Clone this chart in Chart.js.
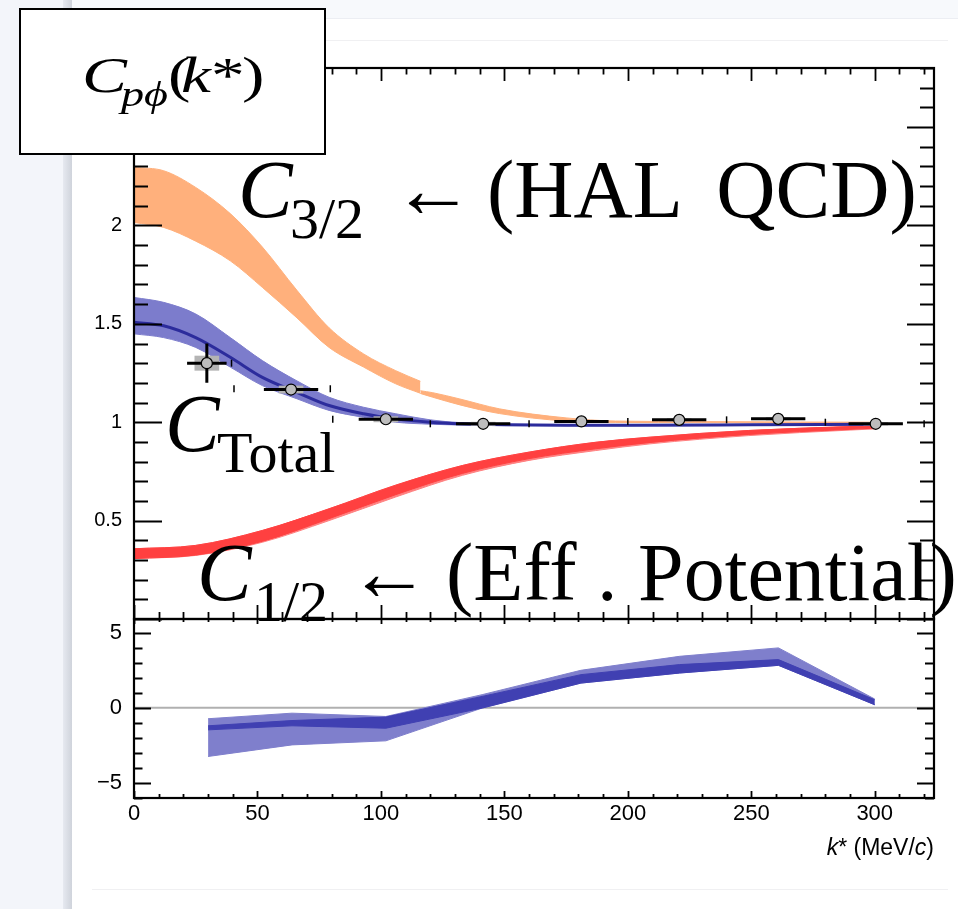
<!DOCTYPE html>
<html>
<head>
<meta charset="utf-8">
<title>p–φ correlation function</title>
<script src="https://cdn.jsdelivr.net/npm/chart.js@4.4.1/dist/chart.umd.min.js"></script>
<style>
  html, body { margin: 0; padding: 0; background: #fff; }
  #page { position: relative; width: 958px; height: 909px; overflow: hidden; background: #fff; }
  .side  { position: absolute; left: 0; top: 0; width: 63px; height: 909px; background: #f3f5fa; }
  .edge  { position: absolute; left: 63px; top: 0; width: 9px; height: 909px; background: linear-gradient(to right, #e6e9f0, #cfd3db); }
  .topbar{ position: absolute; left: 72px; top: 0; width: 886px; height: 18px; background: #f7f9fc; border-bottom: 1px solid #eceef3; }
  .rule1 { position: absolute; left: 72px; top: 40px; width: 876px; height: 1px; background: #f0f0f2; }
  .rule2 { position: absolute; left: 92px; top: 889px; width: 856px; height: 1px; background: #f0f0f2; }
  canvas { position: absolute; left: 0; top: 0; }
</style>
</head>
<body>
<div id="page">
  <div class="side"></div>
  <div class="edge"></div>
  <div class="topbar"></div>
  <div class="rule1"></div>
  <div class="rule2"></div>
  <canvas id="lower" width="958" height="909"></canvas>
  <canvas id="upper" width="958" height="909"></canvas>
</div>
<script>
// ---------- measured correlation function ----------
const kData      = [29.5, 63.6, 102.0, 141.4, 181.2, 220.8, 260.9, 300.4];
const cData      = [1.300, 1.166, 1.015, 0.992, 1.004, 1.012, 1.017, 0.992];
const cStat      = [0.100, 0.012, 0.010, 0.008, 0.006, 0.006, 0.006, 0.006];
const cSyst      = [0.038, 0.020, 0.015, 0.010, 0.008, 0.008, 0.008, 0.008];
const kHalfWidth = [8, 11, 11, 11, 11, 11, 11, 11];

// small brackets at the bin edges
const kEdge = [39.5, 40.5, 79.5, 80.5, 120, 160, 200, 240, 280, 320];
const cEdge = [1.300, 1.170, 1.170, 1.015, 0.992, 0.992, 1.004, 1.012, 1.000, 0.992];

// ---------- C_3/2 (HAL QCD) band, two pieces either side of the step ----------
const kHalA  = [0, 12, 25, 39, 52, 66, 79, 93, 106, 116];
const halHiA = [2.295, 2.278, 2.193, 2.060, 1.890, 1.670, 1.480, 1.347, 1.262, 1.208];
const halLoA = [2.015, 1.990, 1.920, 1.820, 1.685, 1.530, 1.380, 1.280, 1.195, 1.147];
const kHalB  = [116, 121, 132, 148, 175, 195, 230, 270, 300];
const halHiB = [1.160, 1.150, 1.118, 1.068, 1.022, 1.006, 1.003, 1.001, 1.000];
const halLoB = [1.146, 1.127, 1.088, 1.044, 1.006, 0.999, 0.998, 0.997, 0.997];

// ---------- C_Total band ----------
const kTot   = [0, 12, 25, 39, 52, 66, 79, 93, 106, 120, 132, 150, 175, 200, 250, 300];
const totHi  = [1.634, 1.609, 1.550, 1.430, 1.313, 1.210, 1.127, 1.076, 1.043, 1.012, 0.998, 0.990, 0.988, 0.988, 0.989, 0.992];
const totMid = [1.508, 1.490, 1.430, 1.330, 1.228, 1.152, 1.085, 1.043, 1.017, 1.000, 0.992, 0.987, 0.985, 0.985, 0.987, 0.990];
const totLo  = [1.449, 1.430, 1.380, 1.280, 1.186, 1.119, 1.060, 1.025, 1.000, 0.990, 0.986, 0.983, 0.982, 0.982, 0.984, 0.988];

// ---------- C_1/2 (effective potential) band ----------
const kEff      = [0, 25, 52, 79, 106, 133, 160, 187, 209, 249, 290, 300];
const effHi     = [0.357, 0.374, 0.450, 0.560, 0.680, 0.780, 0.848, 0.898, 0.924, 0.958, 0.978, 0.982];
const effCoreLo = [0.307, 0.325, 0.395, 0.510, 0.632, 0.740, 0.815, 0.865, 0.897, 0.938, 0.964, 0.970];
const effLo     = [0.307, 0.323, 0.390, 0.500, 0.620, 0.730, 0.806, 0.856, 0.890, 0.932, 0.960, 0.966];

// ---------- deviation panel ----------
const kDev       = [30, 64, 102, 141, 181, 221, 261, 300];
const devOuterHi = [-0.73, -0.36, -0.58, 0.87, 2.49, 3.42, 3.98, 0.58];
const devOuterLo = [-3.24, -2.47, -2.20, -0.02, 1.64, 2.31, 2.82, 0.20];
const devInnerHi = [-1.20, -0.85, -0.62, 0.75, 2.20, 2.87, 3.20, 0.53];
const devInnerLo = [-1.47, -1.20, -1.36, -0.02, 1.64, 2.31, 2.82, 0.20];
const zeroK = [0, 324];
const zeroY = [0, 0];

// ---------- tick labels ----------
const xTickVals     = [0, 50, 100, 150, 200, 250, 300];
const upperTickVals = [0.5, 1, 1.5, 2, 2.5];
const lowerTickVals = [-5, 0, 5];

// ---------------------------------------------------
const SANS  = '"Liberation Sans", Arial, Helvetica, sans-serif';
const SERIF = '"Liberation Serif", "Times New Roman", Times, serif';
Chart.defaults.font.family = SANS;
Chart.defaults.color = '#000';

const pts = (xs, ys) => xs.map((x, i) => ({ x, y: ys[i] }));
const fmt = v => (v < 0 ? '\u2212' + Math.abs(v) : String(v));

function band(data, color, fill, order, smooth) {
  return {
    data, fill, order,
    borderColor: color, borderWidth: 1, backgroundColor: color,
    pointRadius: 0,
    cubicInterpolationMode: smooth ? 'monotone' : 'default',
    tension: 0
  };
}

function range(from, to, step) {
  const out = [];
  for (let i = Math.ceil(from / step - 1e-9); i * step <= to + 1e-9; i++) out.push(+(i * step).toFixed(6));
  return out;
}

// frame with inward ticks, ROOT style
const frameTicks = {
  id: 'frameTicks',
  afterDatasetsDraw(chart, args, o) {
    const { ctx, chartArea: a, scales: { x, y } } = chart;
    const isMajor = (v, m) => Math.abs(v / m - Math.round(v / m)) < 1e-6;
    ctx.save();
    ctx.strokeStyle = '#000';
    ctx.lineWidth = 1.8;
    ctx.beginPath();
    range(x.min, x.max, o.xMinor).forEach(v => {
      const p = Math.round(x.getPixelForValue(v)) + 0.5;
      const mj = isMajor(v, o.xMajor);
      const lt = mj ? o.top[0] : o.top[1];
      const lb = mj ? o.bottom[0] : o.bottom[1];
      ctx.moveTo(p, a.top); ctx.lineTo(p, a.top + lt);
      ctx.moveTo(p, a.bottom); ctx.lineTo(p, a.bottom - lb);
    });
    range(y.min, y.max, o.yMinor).forEach(v => {
      const p = Math.round(y.getPixelForValue(v)) + 0.5;
      const mj = isMajor(v, o.yMajor);
      const ll = mj ? o.left[0] : o.left[1];
      const lr = mj ? o.right[0] : o.right[1];
      ctx.moveTo(a.left, p); ctx.lineTo(a.left + ll, p);
      ctx.moveTo(a.right, p); ctx.lineTo(a.right - lr, p);
    });
    ctx.stroke();
    ctx.lineWidth = 2.2;
    ctx.strokeRect(a.left, a.top, a.right - a.left, a.bottom - a.top);
    ctx.restore();
  }
};

// statistical bars and systematic boxes under the markers
const errorBars = {
  id: 'errorBars',
  beforeDatasetDraw(chart, args) {
    if (args.index !== 0) return;
    const { ctx, scales: { x, y } } = chart;
    const boxHalfK = 5;
    ctx.save();
    kData.forEach((k, i) => {
      const c = cData[i];
      const bx0 = x.getPixelForValue(k - boxHalfK), bx1 = x.getPixelForValue(k + boxHalfK);
      const by0 = y.getPixelForValue(c + cSyst[i]), by1 = y.getPixelForValue(c - cSyst[i]);
      ctx.fillStyle = '#b4b4b4';
      ctx.fillRect(bx0, by0, bx1 - bx0, by1 - by0);
    });
    ctx.strokeStyle = '#000';
    ctx.lineWidth = 3;
    ctx.beginPath();
    kData.forEach((k, i) => {
      const c = cData[i];
      const px = x.getPixelForValue(k), py = y.getPixelForValue(c);
      ctx.moveTo(x.getPixelForValue(k - kHalfWidth[i]), py);
      ctx.lineTo(x.getPixelForValue(k + kHalfWidth[i]), py);
      ctx.moveTo(px, y.getPixelForValue(c + cStat[i]));
      ctx.lineTo(px, y.getPixelForValue(c - cStat[i]));
    });
    ctx.stroke();
    ctx.restore();
  }
};

// labels written over the plot, and the title box
const annotations = {
  id: 'annotations',
  afterDraw(chart) {
    const ctx = chart.ctx;
    const put = (t, f, x, y, ws, sx) => {
      ctx.save();
      ctx.font = f;
      if ('wordSpacing' in ctx) ctx.wordSpacing = ws || '0px';
      ctx.translate(x, y);
      if (sx) ctx.scale(sx, 1);
      ctx.fillText(t, 0, 0);
      ctx.restore();
    };
    ctx.save();
    ctx.fillStyle = '#000';
    ctx.textBaseline = 'alphabetic';
    ctx.textAlign = 'left';

    put('C', 'italic 82px ' + SERIF, 238, 217);
    put('3/2', '58px ' + SERIF, 290, 238);
    put('\u2190', '82px ' + SERIF, 392, 217);
    put('(HAL QCD)', '82px ' + SERIF, 487, 217, '13px');

    put('C', 'italic 82px ' + SERIF, 165, 451);
    put('Total', '58px ' + SERIF, 217, 472);

    put('C', 'italic 82px ' + SERIF, 197, 600);
    put('1/2', '58px ' + SERIF, 254, 621);
    put('\u2190', '82px ' + SERIF, 348, 600);
    put('(Eff . Potential)', '82px ' + SERIF, 446, 600);

    // axis title
    const parts = [
      ['k', 'italic 23px ' + SANS], ['* (MeV/', '23px ' + SANS],
      ['c', 'italic 23px ' + SANS], [')', '23px ' + SANS]
    ];
    let w = 0;
    parts.forEach(([t, f]) => { ctx.font = f; w += ctx.measureText(t).width; });
    let tx = 934 - w;
    parts.forEach(([t, f]) => { ctx.font = f; ctx.fillText(t, tx, 855); tx += ctx.measureText(t).width; });

    // title box
    ctx.fillStyle = '#fff';
    ctx.fillRect(20, 9, 305, 145);
    ctx.strokeStyle = '#000';
    ctx.lineWidth = 2;
    ctx.strokeRect(20, 9, 305, 145);
    ctx.fillStyle = '#000';
    const SX = 1.32;
    put('C', 'italic 51px ' + SERIF, 82, 92, null, SX);
    put('p\u03d5', 'italic 35px ' + SERIF, 121, 106, null, SX);
    put('(', '51px ' + SERIF, 168, 92, null, SX);
    put('k', 'italic 51px ' + SERIF, 181, 92, null, SX);
    put('*', '51px ' + SERIF, 211, 92, null, SX);
    put(')', '51px ' + SERIF, 242, 92, null, SX);
    ctx.restore();
  }
};

const common = {
  responsive: false,
  animation: false,
  events: [],
  plugins: { legend: { display: false }, tooltip: { enabled: false } }
};

// ---------- upper panel: C(k*) ----------
new Chart(document.getElementById('upper'), {
  type: 'line',
  data: {
    datasets: [
      { data: pts(kData, cData), showLine: false, pointRadius: 5.5, pointBorderWidth: 1.2,
        pointBackgroundColor: '#bdbdbd', pointBorderColor: '#000', order: 0 },
      { data: pts(kEdge, cEdge), showLine: false, pointStyle: 'line', rotation: 90, pointRadius: 3.5,
        pointBorderWidth: 1.5, pointBorderColor: '#000', order: 1 },
      { data: pts(kTot, totMid), borderColor: '#2c2c9c', borderWidth: 3, pointRadius: 0,
        fill: false, cubicInterpolationMode: 'monotone', order: 2 },
      band(pts(kTot, totHi), 'rgb(124,124,204)', '+1', 3, true),
      band(pts(kTot, totLo), 'rgb(124,124,204)', false, 4, true),
      band(pts(kHalA, halHiA), 'rgb(255,176,124)', '+1', 5, true),
      band(pts(kHalA, halLoA), 'rgb(255,176,124)', false, 6, true),
      band(pts(kHalB, halHiB), 'rgb(255,176,124)', '+1', 7, true),
      band(pts(kHalB, halLoB), 'rgb(255,176,124)', false, 8, true),
      band(pts(kEff, effHi), 'rgb(255,64,64)', '+1', 9, true),
      band(pts(kEff, effCoreLo), 'rgb(255,64,64)', false, 10, true),
      band(pts(kEff, effHi), 'rgb(255,128,128)', '+1', 11, true),
      band(pts(kEff, effLo), 'rgb(255,128,128)', false, 12, true)
    ]
  },
  options: {
    ...common,
    layout: { padding: { top: 68, right: 24, bottom: 290, left: 0 } },
    scales: {
      x: { type: 'linear', min: 0, max: 324, display: false },
      y: {
        type: 'linear', min: 0, max: 2.8,
        grid: { display: false, drawTicks: false },
        border: { display: false },
        afterBuildTicks: s => { s.ticks = upperTickVals.map(v => ({ value: v })); },
        afterFit: s => { s.width = 134; },
        ticks: { padding: 12, font: { size: 20 }, callback: v => fmt(v) }
      }
    },
    plugins: {
      ...common.plugins,
      frameTicks: { xMinor: 10, xMajor: 50, yMinor: 0.1, yMajor: 0.5,
                    top: [13, 6.5], bottom: [14, 7], left: [28, 14], right: [27, 14] }
    }
  },
  plugins: [errorBars, frameTicks, annotations]
});

// ---------- lower panel: deviation ----------
new Chart(document.getElementById('lower'), {
  type: 'line',
  data: {
    datasets: [
      band(pts(kDev, devInnerHi), 'rgb(64,64,178)', '+1', 0, false),
      band(pts(kDev, devInnerLo), 'rgb(64,64,178)', false, 1, false),
      band(pts(kDev, devOuterHi), 'rgb(127,127,204)', '+1', 2, false),
      band(pts(kDev, devOuterLo), 'rgb(127,127,204)', false, 3, false),
      { data: pts(zeroK, zeroY), borderColor: '#b0b0b0', borderWidth: 2, pointRadius: 0, fill: false, order: 4 }
    ]
  },
  options: {
    ...common,
    layout: { padding: { top: 619, right: 24, bottom: 0, left: 0 } },
    scales: {
      x: {
        type: 'linear', min: 0, max: 324,
        grid: { display: false, drawTicks: false },
        border: { display: false },
        afterBuildTicks: s => { s.ticks = xTickVals.map(v => ({ value: v })); },
        afterFit: s => { s.height = 111; },
        ticks: { padding: 3, autoSkip: false, maxRotation: 0, font: { size: 22 }, callback: v => fmt(v) }
      },
      y: {
        type: 'linear', min: -6, max: 5.9,
        grid: { display: false, drawTicks: false },
        border: { display: false },
        afterBuildTicks: s => { s.ticks = lowerTickVals.map(v => ({ value: v })); },
        afterFit: s => { s.width = 134; },
        ticks: { padding: 12, font: { size: 22 }, callback: v => fmt(v) }
      }
    },
    plugins: {
      ...common.plugins,
      frameTicks: { xMinor: 10, xMajor: 50, yMinor: 1, yMajor: 5,
                    top: [5, 3], bottom: [7, 4], left: [17, 8.5], right: [17, 9] }
    }
  },
  plugins: [frameTicks]
});
</script>
</body>
</html>
